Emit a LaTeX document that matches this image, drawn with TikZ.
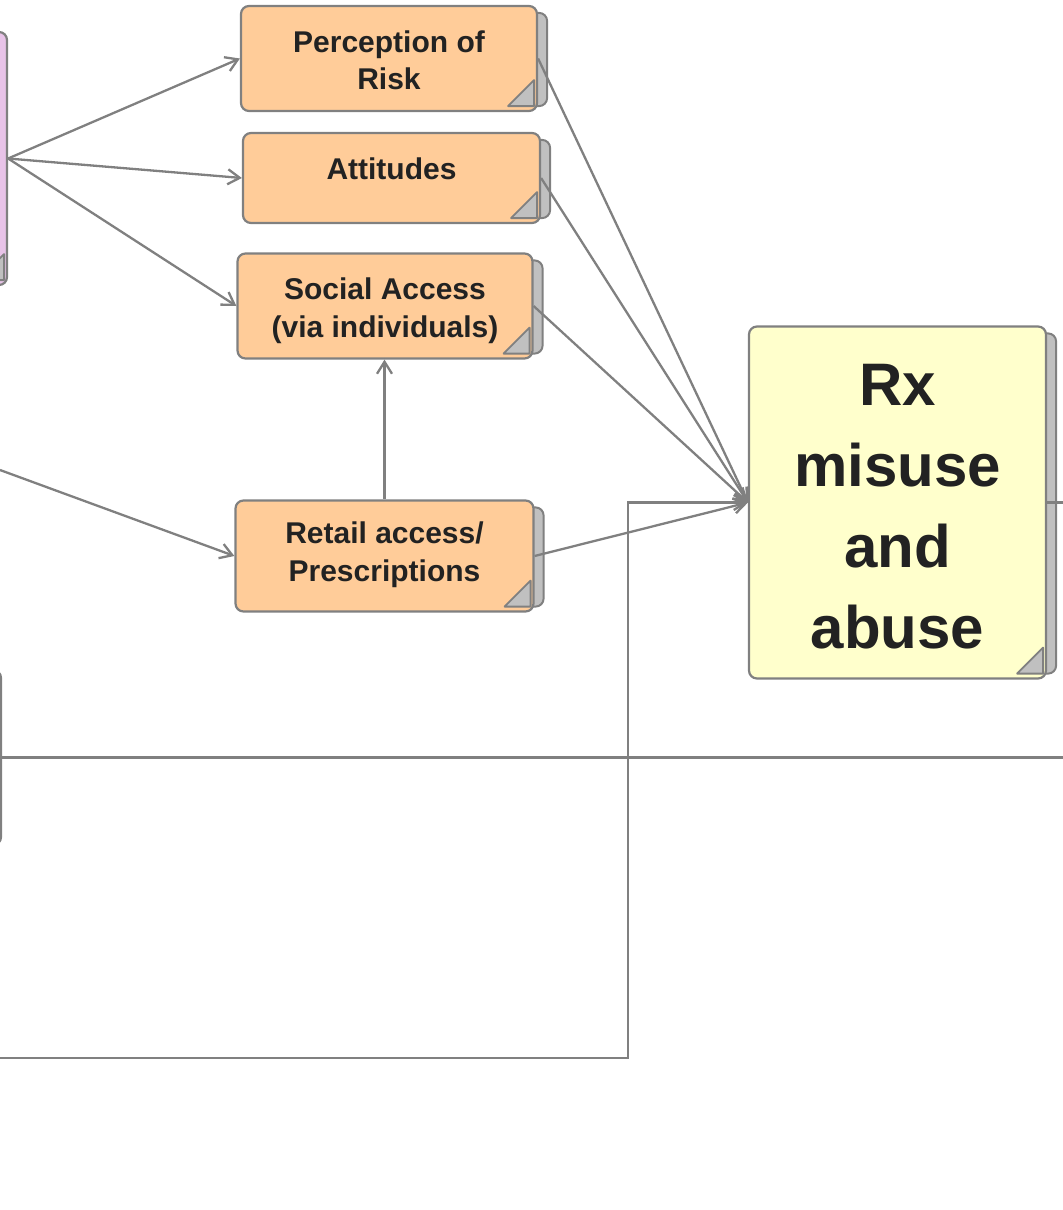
\documentclass[tikz,border=0pt]{standalone}
\usepackage{fontspec}
\setmainfont{Liberation Sans}
\usetikzlibrary{arrows.meta}
\usetikzlibrary{backgrounds}
\definecolor{peach}{HTML}{FFCC99}
\definecolor{lemon}{HTML}{FFFFCC}
\definecolor{lilac}{HTML}{E8C3E8}
\definecolor{edge}{HTML}{808080}
\definecolor{flap}{HTML}{C0C0C0}
\definecolor{ink}{HTML}{222222}

\begin{document}
\begin{tikzpicture}[x=0.5pt,y=-0.5pt,
    card/.style={draw=edge,line width=1.1pt,rounded corners=4pt,inner sep=0pt},
    stack/.style={draw=edge,fill=flap,line width=1pt,rounded corners=4pt},
    fold/.style={draw=edge,fill=flap,line width=0.9pt,line join=round},
    txt/.style={anchor=north,inner sep=0pt,align=center,text=ink,
      font=\bfseries\fontsize{15pt}{18.8pt}\selectfont},
    wire/.style={draw=edge,line width=1.15pt},
    link/.style={wire,->,>={Straight Barb[length=6pt,width=7.5pt]}}]
        \useasboundingbox (0,0) rectangle (1063,1210);
        \clip (0,0) rectangle (1063,1210);

        % 箱
        \node[card,fill=lilac,minimum width=147pt,minimum height=126.5pt] (src) at (-140,158.5) {};
        \node[card,fill=white,minimum width=147pt,minimum height=87.5pt] (ctl) at (-146,757.5) {};
        \node[card,fill=peach,minimum width=148pt,minimum height=52.5pt] (risk) at (389,58.5) {};
        \node[card,fill=peach,minimum width=148.5pt,minimum height=45pt] (att) at (391.5,178) {};
        \node[card,fill=peach,minimum width=147.5pt,minimum height=52.5pt] (social) at (385,306) {};
        \node[card,fill=peach,minimum width=149pt,minimum height=55.5pt] (retail) at (384.5,556) {};
        \node[card,fill=lemon,minimum width=148.5pt,minimum height=176pt] (rx) at (897.5,502.5) {};

        % 重なり
        \begin{pgfonlayer}{background}
          \foreach \n in {risk,att,social,retail,rx}
            \draw[stack] ([shift={(-10pt,-4pt)}]\n.north east) rectangle ([shift={(4.5pt,3pt)}]\n.south east);
        \end{pgfonlayer}

        % 折り返し
        \foreach \n in {src,risk,att,social,retail,rx}
          \draw[fold] ([shift={(-15pt,3pt)}]\n.south east) -- ([shift={(-2pt,16pt)}]\n.south east)
            -- ([shift={(-2pt,3pt)}]\n.south east) -- cycle;

        % ラベル
        \node[txt] (risk-t) at ([yshift=-12.5pt]risk.north) {Perception of\\Risk};
        \node[txt] (att-t) at ([yshift=-12.5pt]att.north) {Attitudes};
        \node[txt] (social-t) at ([yshift=-12.5pt]social.north) {Social Access\\(via individuals)};
        \node[txt] (retail-t) at ([yshift=-11pt]retail.north) {Retail access/\\Prescriptions};
        \node[txt,font=\bfseries\fontsize{30pt}{40.5pt}\selectfont] (rx-t) at ([yshift=-19pt]rx.north) {Rx\\misuse\\and\\abuse};

        % 矢印
        \draw[link] (src.east) -- (risk.west);
        \draw[link] (src.east) -- (att.west);
        \draw[link] (src.east) -- (social.west);
        \coordinate (inB) at (0,470);
        \draw[link] (inB) -- (retail.west);
        \draw[link] (retail.north) -- (retail.north |- social.south);
        \foreach \n in {risk,att,social,retail}
          \draw[link] (\n.east) -- (rx.west);

        % 帰還線
        \coordinate (back) at (0,1058);
        \coordinate (turn) at (628,1058);
        \draw[link] (back) -- (turn) |- (rx.west);

        % 横線
        \coordinate (outA) at (1063,757.5);
        \draw[wire] (ctl.east) -- (outA);
        \coordinate (outB) at (1063,0);
        \draw[wire] (rx.east) -- (rx.east -| outB);
      \end{tikzpicture}
\end{document}
